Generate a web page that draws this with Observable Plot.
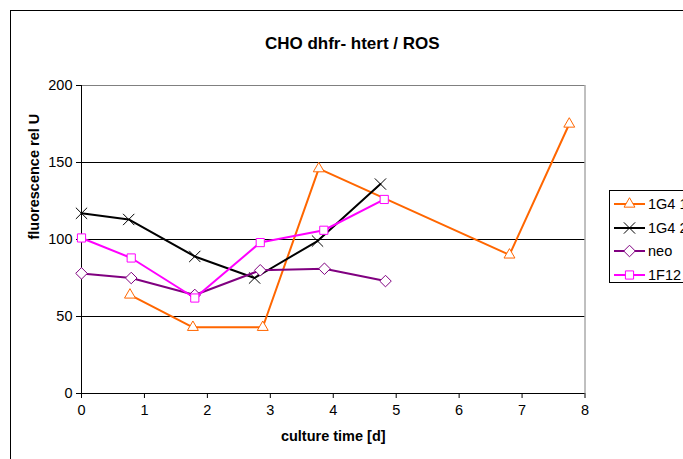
<!DOCTYPE html>
<html>
<head>
<meta charset="utf-8">
<script src="https://cdn.jsdelivr.net/npm/d3@7"></script>
<script src="https://cdn.jsdelivr.net/npm/@observablehq/plot@0.6"></script>
<style>
  html, body { margin: 0; padding: 0; width: 683px; height: 459px; overflow: hidden; background: #fff; }
  body { position: relative; font-family: "Liberation Sans", Arial, sans-serif; }
  #frame { position: absolute; left: 10px; top: 10px; width: 720px; height: 500px; border: 1px solid #000; box-sizing: border-box; }
  #chart { position: absolute; left: 0; top: 0; }
  #legend { position: absolute; left: 609px; top: 190px; width: 100px; height: 93px; border: 1px solid #000; background: #fff; box-sizing: border-box; }
  .item { position: absolute; left: 2px; height: 20px; display: flex; align-items: center; font-size: 14.5px; color: #000; white-space: nowrap; }
  .item svg { display: block; margin-right: 3px; }
</style>
</head>
<body>
<div id="frame"></div>
<div id="chart"></div>
<div id="legend"></div>
<script>
// ---- data ----
const seriesNames = ["1G4 1", "1G4 2", "neo", "1F12"];
const seriesColors = ["#FF6600", "#000000", "#800080", "#FF00FF"];
const seriesSymbols = ["triangle2", "times", "diamond2", "square2"];

const t1G4_1 = [0.77, 1.77, 2.88, 3.77, 6.8, 7.75];
const v1G4_1 = [64, 43, 43, 146, 90, 175];

const t1G4_2 = [0, 0.75, 1.8, 2.75, 3.75, 4.75];
const v1G4_2 = [117, 113, 89, 75, 99, 136];

const tNeo = [0, 0.79, 1.8, 2.84, 3.86, 4.83];
const vNeo = [78, 75, 64, 80, 81, 73];

const t1F12 = [0, 0.79, 1.8, 2.84, 3.85, 4.81];
const v1F12 = [101, 88, 62, 98, 106, 126];

const xTicks = [0, 1, 2, 3, 4, 5, 6, 7, 8];
const yTicks = [0, 50, 100, 150, 200];
const gridLines = [50, 100, 150];

const titleText = "CHO dhfr- htert / ROS";
const xLabel = "culture time [d]";
const yLabel = "fluorescence rel U";

// ---- build table ----
const allT = [t1G4_1, t1G4_2, tNeo, t1F12];
const allV = [v1G4_1, v1G4_2, vNeo, v1F12];
const table = seriesNames.map((name, i) => allT[i].map((t, j) => ({series: name, t, v: allV[i][j]})));

const seriesMarks = table.flatMap((rows, i) => [
  Plot.line(rows, {x: "t", y: "v", stroke: seriesColors[i], strokeWidth: 2}),
  Plot.dot(rows, {x: "t", y: "v", stroke: seriesColors[i], fill: "#fff", symbol: seriesSymbols[i], r: 5.2, strokeWidth: 1})
]);

const chart = Plot.plot({
  width: 683,
  height: 459,
  marginLeft: 81,
  marginRight: 98.5,
  marginTop: 85,
  marginBottom: 66,
  x: {domain: [0, 8]},
  y: {domain: [0, 200]},
  style: {fontFamily: "'Liberation Sans', Arial, sans-serif", fontSize: "14.5px", background: "transparent", color: "#000", overflow: "visible"},
  marks: [
    Plot.ruleY(gridLines, {stroke: "#000", strokeWidth: 1}),
    Plot.ruleY([200], {stroke: "#808080", strokeWidth: 1}),
    Plot.ruleX([8], {stroke: "#808080", strokeWidth: 1}),
    Plot.ruleY([0], {stroke: "#000", strokeWidth: 1}),
    Plot.ruleX([0], {stroke: "#000", strokeWidth: 1}),
    Plot.axisX({ticks: xTicks, tickSize: 5, tickPadding: 6, tickFormat: d => String(d), label: null, stroke: "#000"}),
    Plot.axisY({ticks: yTicks, tickSize: 5, tickPadding: 4, tickFormat: d => String(d), label: null, stroke: "#000"}),
    ...seriesMarks,
    Plot.text([titleText], {frameAnchor: "top", dx: 19, dy: -49, fontWeight: "bold", fontSize: 17}),
    Plot.text([xLabel], {frameAnchor: "bottom", dy: 47, fontWeight: "bold", fontSize: 14.5}),
    Plot.text([yLabel], {frameAnchor: "left", dx: -47, rotate: -90, fontWeight: "bold", fontSize: 14.5})
  ]
});
document.getElementById("chart").appendChild(chart);

// ---- legend ----
const legend = d3.select("#legend");
const symMap = {triangle2: d3.symbolTriangle2, times: d3.symbolTimes, diamond2: d3.symbolDiamond2, square2: d3.symbolSquare2};
const rowTops = [4, 27.5, 51, 74.5];
seriesNames.forEach((name, i) => {
  const item = legend.append("div").attr("class", "item").style("top", (rowTops[i] - 1) + "px");
  const svg = item.append("svg").attr("width", 33).attr("height", 20);
  svg.append("line").attr("x1", 2).attr("x2", 33).attr("y1", 10).attr("y2", 10)
    .attr("stroke", seriesColors[i]).attr("stroke-width", 2);
  svg.append("path").attr("transform", "translate(17.5,10)")
    .attr("d", d3.symbol(symMap[seriesSymbols[i]], Math.PI * 5.2 * 5.2)())
    .attr("fill", "#fff").attr("stroke", seriesColors[i]).attr("stroke-width", 1);
  item.append("span").text(name);
});
</script>
</body>
</html>
